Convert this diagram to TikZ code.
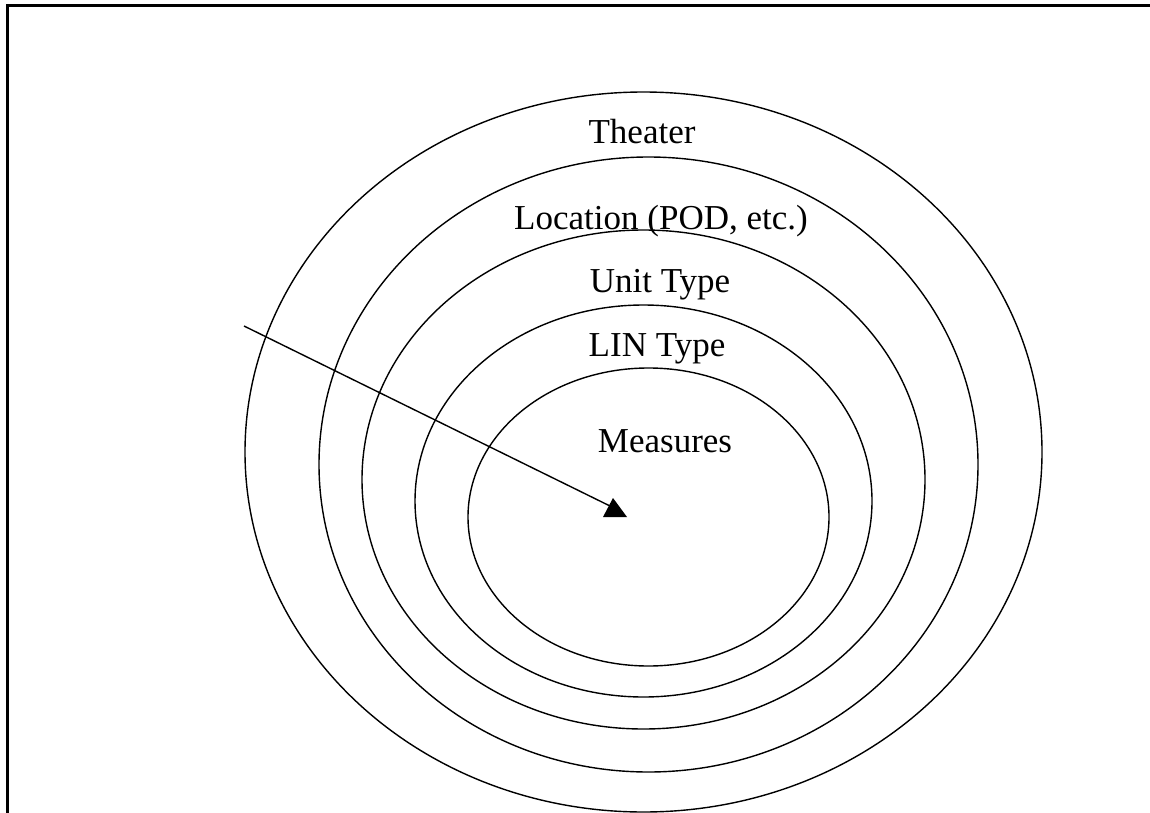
\documentclass[tikz,border=0pt]{standalone}
\usepackage{fontspec}
\setmainfont{Liberation Serif}
\usetikzlibrary{shapes.geometric}
\begin{document}
\begin{tikzpicture}[x=1pt,y=-1pt,inner sep=0pt,outer sep=0pt,line width=1.4pt,
ring/.style={draw,ellipse,line width=1.4pt},
ringlabel/.style={anchor=base,font=\fontsize{35}{42}\selectfont}]
\useasboundingbox (0,0) rectangle (1150,813);
\draw[line width=2.2pt] (7.5,813) -- (7.5,5.5) -- (1150,5.5);

% rings, outside in
\draw (643.5,452) node[ring,minimum width=797pt,minimum height=720pt] (theater) {};
\draw (648.5,464.5) node[ring,minimum width=659pt,minimum height=615pt] (location) {};
\draw (643.5,479.5) node[ring,minimum width=563pt,minimum height=499pt] (unit) {};
\draw (643.5,501) node[ring,minimum width=457pt,minimum height=392pt] (lin) {};
\draw (648.5,517) node[ring,minimum width=361pt,minimum height=298pt] (measures) {};

\draw (642,144) node[ringlabel] (theaterlbl) {Theater};
\draw (661,229) node[ringlabel] (locationlbl) {Location (POD, etc.)};
\draw (660,292) node[ringlabel] (unitlbl) {Unit Type};
\draw (657,356) node[ringlabel] (linlbl) {LIN Type};
\draw (665,452) node[ringlabel] (measureslbl) {Measures};

% arrow into the core
\coordinate (tail) at (244,326);
\coordinate (tip) at (610,506);
\draw (tail) -- (tip);
\fill (tip) ++(3,-8) -- ++(14,19) -- ++(-24,0) -- cycle;
\end{tikzpicture}
\end{document}
